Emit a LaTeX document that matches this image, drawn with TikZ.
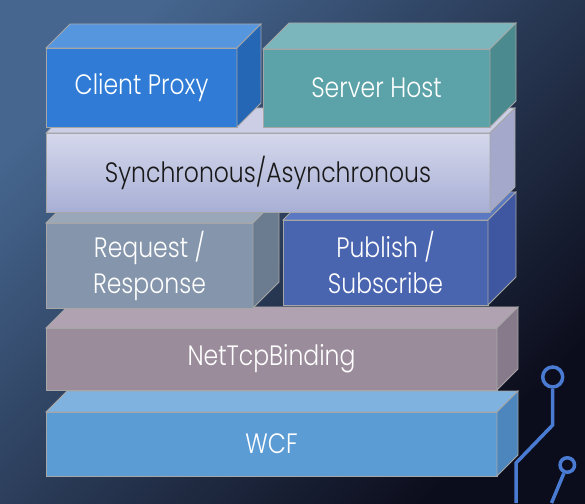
\documentclass[tikz,border=0pt]{standalone}
\usepackage{fontspec}
\setmainfont{Poppins}[FakeStretch=0.84, UprightFont=* Light]
\usetikzlibrary{positioning,calc}

\definecolor{bgTop}{HTML}{46668F}
\definecolor{bgMid}{HTML}{222D52}
\definecolor{bgBot}{HTML}{0C0D1C}
\definecolor{clientFront}{HTML}{2F7BD5}
\definecolor{clientTop}{HTML}{5596DF}
\definecolor{clientSide}{HTML}{2566B5}
\definecolor{serverFront}{HTML}{5BA3A8}
\definecolor{serverTop}{HTML}{7AB6BB}
\definecolor{serverSide}{HTML}{4B8B90}
\definecolor{syncFrontA}{HTML}{D5D8EC}
\definecolor{syncFrontB}{HTML}{A8AFD5}
\definecolor{syncTop}{HTML}{CBCEE5}
\definecolor{syncSide}{HTML}{A4A9CB}
\definecolor{reqFront}{HTML}{8596AC}
\definecolor{reqTop}{HTML}{9AA7B8}
\definecolor{reqSide}{HTML}{6C7C90}
\definecolor{pubFront}{HTML}{4A65B0}
\definecolor{pubTop}{HTML}{5B78C2}
\definecolor{pubSide}{HTML}{3E57A0}
\definecolor{tcpFront}{HTML}{9B8C9C}
\definecolor{tcpTop}{HTML}{B0A2B0}
\definecolor{tcpSide}{HTML}{877A8A}
\definecolor{wcfFront}{HTML}{5C9CD4}
\definecolor{wcfTop}{HTML}{80B2DF}
\definecolor{wcfSide}{HTML}{4C86BC}
\definecolor{trace}{HTML}{4A7BD3}

% top and right faces of a box: node, depth, top colour, side colour
\newcommand{\boxfaces}[4]{%
  \filldraw[face, fill=#3] (#1.north west) -- ++(#2pt,#2pt)
    -- ($(#1.north east)+(#2pt,#2pt)$) -- (#1.north east) -- cycle;
  \filldraw[face, fill=#4] (#1.north east) -- ++(#2pt,#2pt)
    -- ($(#1.south east)+(#2pt,#2pt)$) -- (#1.south east) -- cycle;
}

\begin{document}
\begin{tikzpicture}[
x=1pt, y=1pt,
stackbox/.style={
rectangle,
draw=black!35,
line width=0.8pt,
outer sep=0pt,
align=center,
text=white,
font=\fontsize{28}{36}\selectfont
},
face/.style={draw=black!35, line width=0.8pt},
pad/.style={circle, draw=trace, line width=3.5pt, inner sep=0pt},
tracewire/.style={draw=trace, line width=3.5pt}
]
\useasboundingbox (0,0) rectangle (585,503);
\fill[top color=bgTop, middle color=bgMid, bottom color=bgBot, shading angle=45]
  (0,0) rectangle (585,503);

\node[stackbox, fill=wcfFront, minimum width=451pt, minimum height=64pt] (wcf) at (271.5,59) {WCF};
\boxfaces{wcf}{21}{wcfTop}{wcfSide}
\node[stackbox, fill=tcpFront, minimum width=451pt, minimum height=62pt, above=22pt of wcf] (tcp) {NetTcpBinding};
\boxfaces{tcp}{21}{tcpTop}{tcpSide}
\node[stackbox, fill=reqFront, minimum width=207pt, minimum height=85pt,
  above=20pt of tcp.north west, anchor=south west] (req) {Request /\\Response};
\boxfaces{req}{26}{reqTop}{reqSide}
\node[stackbox, fill=pubFront, minimum width=205pt, minimum height=85pt,
  right=30pt of req.south east, anchor=south west, yshift=3pt] (pub) {Publish /\\Subscribe};
\boxfaces{pub}{28}{pubTop}{pubSide}
\node[stackbox, top color=syncFrontA, bottom color=syncFrontB, text=black!90,
  minimum width=444pt, minimum height=79pt,
  above=11pt of req.north west, anchor=south west] (sync) {Synchronous/Asynchronous};
\boxfaces{sync}{25}{syncTop}{syncSide}
\node[stackbox, fill=clientFront, minimum width=191pt, minimum height=79pt,
  above=6pt of sync.north west, anchor=south west] (client) {Client Proxy};
\boxfaces{client}{24}{clientTop}{clientSide}
\node[stackbox, fill=serverFront, minimum width=227pt, minimum height=78pt,
  right=26pt of client.south east, anchor=south west] (server) {Server Host};
\boxfaces{server}{26}{serverTop}{serverSide}

% circuit traces
\node[pad, minimum size=20pt] (pad1) at (552.7,126) {};
\node[pad, minimum size=14.5pt] (pad2) at (567.3,38) {};
\coordinate (t1) at (552.7,78);
\coordinate (t2) at (516,40);
\coordinate (t3) at (516,0);
\coordinate (t4) at (551.5,0);
\draw[tracewire] (pad1) -- (t1) -- (t2) -- (t3);
\draw[tracewire] (pad2) -- (t4);
\end{tikzpicture}
\end{document}
